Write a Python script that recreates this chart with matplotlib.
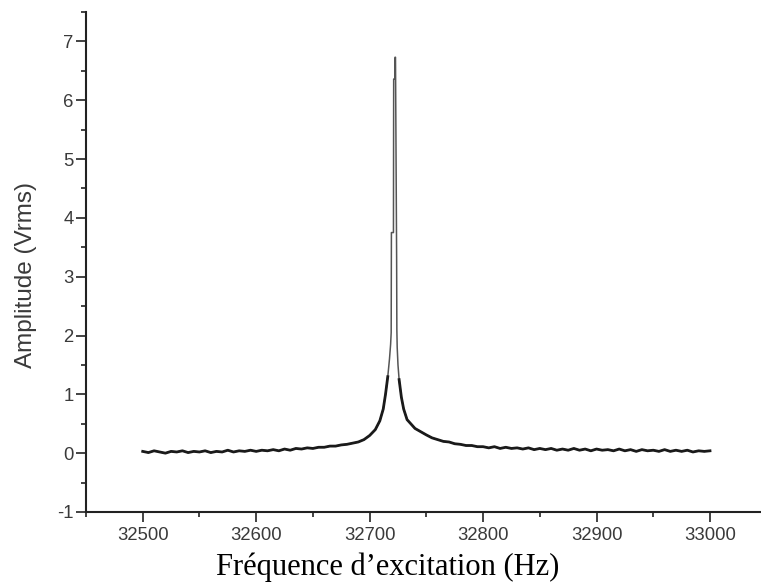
import numpy as np
import matplotlib.pyplot as plt
from matplotlib.ticker import MultipleLocator

# baseline left of the resonance (Hz, Vrms)
f_left = [32500, 32505, 32510, 32515, 32520, 32525, 32530, 32535, 32540, 32545,
          32550, 32555, 32560, 32565, 32570, 32575, 32580, 32585, 32590, 32595,
          32600, 32605, 32610, 32615, 32620, 32625, 32630, 32635, 32640, 32645,
          32650, 32655, 32660, 32665, 32670, 32675, 32680, 32685, 32690, 32695]
a_left = [0.03, 0.01, 0.04, 0.02, 0.00, 0.03, 0.02, 0.04, 0.01, 0.03,
          0.02, 0.04, 0.01, 0.03, 0.02, 0.05, 0.02, 0.04, 0.03, 0.05,
          0.03, 0.05, 0.04, 0.06, 0.04, 0.07, 0.05, 0.08, 0.07, 0.09,
          0.08, 0.10, 0.10, 0.12, 0.12, 0.14, 0.15, 0.17, 0.19, 0.23]

# around the peak
f_peak = [32700, 32705, 32709, 32712, 32714, 32716, 32717.5, 32718.5, 32719.0,
          32719.2, 32721.0, 32721.2, 32722.2, 32722.4, 32722.8, 32723.8, 32724.0,
          32724.3, 32725, 32726, 32728, 32730, 32733, 32740, 32750, 32755]
a_peak = [0.30, 0.40, 0.55, 0.75, 1.00, 1.30, 1.60, 1.85, 2.05,
          3.75, 3.75, 6.36, 6.36, 6.73, 6.73, 3.32, 2.10,
          1.80, 1.50, 1.25, 0.95, 0.75, 0.57, 0.42, 0.31, 0.26]

# baseline right of the resonance
f_right = [32760, 32765, 32770, 32775, 32780, 32785, 32790, 32795, 32800, 32805,
           32810, 32815, 32820, 32825, 32830, 32835, 32840, 32845, 32850, 32855,
           32860, 32865, 32870, 32875, 32880, 32885, 32890, 32895, 32900, 32905,
           32910, 32915, 32920, 32925, 32930, 32935, 32940, 32945, 32950, 32955,
           32960, 32965, 32970, 32975, 32980, 32985, 32990, 32995, 33000]
a_right = [0.23, 0.20, 0.19, 0.16, 0.15, 0.13, 0.13, 0.11, 0.11, 0.09,
           0.11, 0.08, 0.10, 0.08, 0.09, 0.07, 0.09, 0.06, 0.08, 0.06,
           0.08, 0.05, 0.07, 0.05, 0.08, 0.05, 0.07, 0.04, 0.07, 0.05,
           0.06, 0.04, 0.07, 0.04, 0.06, 0.03, 0.06, 0.04, 0.05, 0.03,
           0.06, 0.03, 0.05, 0.03, 0.05, 0.02, 0.04, 0.03, 0.04]

freq = np.array(f_left + f_peak + f_right)
amp = np.array(a_left + a_peak + a_right)

plt.rcParams['axes.unicode_minus'] = False

fig = plt.figure(figsize=(7.61, 5.87), dpi=100)
ax = fig.add_axes([0.113, 0.1278, 0.8945, 0.8518])

# thin grey trace for the narrow top, thicker dark trace for the noisy base
ax.plot(freq, amp, color='#555555', lw=1.1)
amp_low = np.where(amp < 1.4, amp, np.nan)
ax.plot(freq, amp_low, color='#1a1a1a', lw=2.0)

ax.set_xlim(32450, 33050)
ax.set_ylim(-1, 7.5)
ax.xaxis.set_major_locator(MultipleLocator(100))
ax.xaxis.set_minor_locator(MultipleLocator(50))
ax.yaxis.set_major_locator(MultipleLocator(1))
ax.yaxis.set_minor_locator(MultipleLocator(0.5))

for s in ['top', 'right']:
    ax.spines[s].set_visible(False)
for s in ['left', 'bottom']:
    ax.spines[s].set_linewidth(1.5)
    ax.spines[s].set_color('#222222')

ax.tick_params(which='major', length=7, width=1.2, color='#222222')
ax.tick_params(which='minor', length=3.6, width=1.2, color='#222222')
ax.tick_params(axis='y', which='major', pad=2)
ax.tick_params(axis='x', which='major', pad=4)
for lab in ax.get_xticklabels() + ax.get_yticklabels():
    lab.set_fontfamily('Liberation Sans')
    lab.set_fontsize(13.3)
    lab.set_color('#3a3a3a')

fig.text(26 / 761, 1 - 275 / 587, 'Amplitude (Vrms)', rotation=90,
         ha='center', va='center', family='Liberation Sans', fontsize=17.5, color='#3a3a3a')
fig.text(387.5 / 761, 1 - 567 / 587, 'Fréquence d\u2019excitation (Hz)',
         ha='center', va='center', family='Liberation Serif', fontsize=22, color='black')

fig.savefig('out.png', dpi=100)
